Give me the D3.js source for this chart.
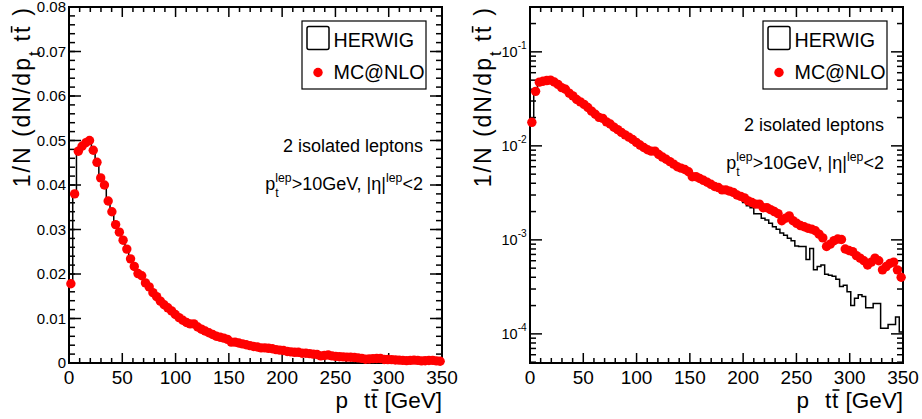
<!DOCTYPE html>
<html>
<head>
<meta charset="utf-8">
<style>
    body { margin: 0; background: #fff; }
    text { font-family: "Liberation Sans", Arial, sans-serif; fill: #000; }
</style>
</head>
<body>
    <svg id="container" width="922" height="419"></svg>
</body>
<script src="https://cdn.jsdelivr.net/npm/d3@7/dist/d3.min.js"></script>
<script>
    // 100 bins of 3.5 GeV, 0 - 350 GeV
    let binWidth = 3.5
    let mcnlo = [
        0.0178, 0.0380, 0.0476, 0.0487, 0.0495, 0.0500, 0.0478, 0.0451, 0.0416, 0.0400,
        0.0364, 0.0340, 0.0311, 0.0294, 0.0276, 0.0256, 0.0234, 0.0217, 0.0201, 0.0196,
        0.0180, 0.0171, 0.0158, 0.0149, 0.0139, 0.0131, 0.0124, 0.0117, 0.0109, 0.0102,
        0.0096, 0.0091, 0.0088, 0.0088, 0.0081, 0.0076, 0.0072, 0.0068, 0.0064, 0.0060,
        0.0058, 0.0056, 0.0053, 0.0047, 0.0047, 0.0045, 0.0043, 0.0041, 0.0039, 0.0037,
        0.0036, 0.0034, 0.0034, 0.0033, 0.0032, 0.0030, 0.0029, 0.0028, 0.0026, 0.0025,
        0.0024, 0.0024, 0.0022, 0.0022, 0.0021, 0.0020, 0.0019, 0.0016, 0.0017, 0.0018,
        0.0016, 0.00150, 0.00142, 0.00138, 0.00133, 0.00130, 0.00125, 0.00115, 0.00105, 0.00085,
        0.00090, 0.00098, 0.00102, 0.00101, 0.00080, 0.00077, 0.00075, 0.00068, 0.00064, 0.00060,
        0.00054, 0.00058, 0.00064, 0.00060, 0.00048, 0.00052, 0.00056, 0.00058, 0.00048, 0.00040
    ]
    let herwig = [
        0.0176, 0.0382, 0.0478, 0.0490, 0.0497, 0.0498, 0.0482, 0.0455, 0.0420, 0.0398,
        0.0368, 0.0342, 0.0314, 0.0295, 0.0279, 0.0258, 0.0236, 0.0219, 0.0203, 0.0193,
        0.0182, 0.0170, 0.0160, 0.0148, 0.0140, 0.0130, 0.0123, 0.0116, 0.0108, 0.0101,
        0.0096, 0.0091, 0.0087, 0.0085, 0.0080, 0.0075, 0.0071, 0.0066, 0.0063, 0.0059,
        0.0057, 0.0054, 0.0051, 0.0047, 0.0046, 0.0044, 0.0042, 0.0040, 0.0038, 0.0036,
        0.0035, 0.0033, 0.0032, 0.0031, 0.0030, 0.0029, 0.0028, 0.0025, 0.0023, 0.0022,
        0.0019, 0.0019, 0.0017, 0.00163, 0.00150, 0.00138, 0.00130, 0.00118, 0.00112, 0.00104,
        0.00098, 0.00086, 0.00085, 0.00085, 0.00062, 0.00081, 0.00048, 0.00052, 0.00054, 0.00043,
        0.00042, 0.00041, 0.00038, 0.00032, 0.00033, 0.00028, 0.00020, 0.00024, 0.00026, 0.00025,
        0.00019, 0.00019, 0.00021, 0.00021, 0.000115, 0.000115, 0.000126, 0.000126, 0.000151, 0.000105
    ]
    let xTicks = [0, 50, 100, 150, 200, 250, 300, 350]
    let linTicks = [0, 0.01, 0.02, 0.03, 0.04, 0.05, 0.06, 0.07, 0.08]
    let linTickLabels = ["0", "0.01", "0.02", "0.03", "0.04", "0.05", "0.06", "0.07", "0.08"]
    let logTicks = [1e-4, 1e-3, 1e-2, 1e-1]
    let logTickExps = ["-4", "-3", "-2", "-1"]
    let legendNames = ["HERWIG", "MC@NLO"]
    let noteLine1 = "2 isolated leptons"

    let svg = d3.select("#container")
    let edges = d3.range(mcnlo.length + 1).map(i => i * binWidth)
    let centers = mcnlo.map((d, i) => (i + 0.5) * binWidth)

    // lays text pieces left to right (sub/superscripts, overbars), returns width
    function richText(g, pieces, size, spacing) {
        let cursor = 0, lastStart = 0
        pieces.forEach(p => {
            let fs = size * (p.scale || 1)
            let start = p.stack ? lastStart : cursor + (p.gap || 0)
            let yy = (p.shift || 0) * size
            let t = g.append("text")
                .attr("x", start).attr("y", yy)
                .style("font-size", fs + "px")
                .style("letter-spacing", (spacing || 0) + "px")
                .text(p.text)
            let w = t.node().getBBox().width
            if (p.bar) {
                g.append("line")
                    .attr("x1", start + 0.5).attr("x2", start + w - (spacing || 0) + 0.5)
                    .attr("y1", yy - 0.8 * fs).attr("y2", yy - 0.8 * fs)
                    .attr("stroke", "#000").attr("stroke-width", 1.6)
            }
            if (!p.stack) { lastStart = start; cursor = start + w }
            else cursor = Math.max(cursor, start + w)
        })
        return cursor
    }

    function rightText(xr, yb, pieces, size) {
        let g = svg.append("g")
        let w = richText(g, pieces, size)
        g.attr("transform", `translate(${xr - w},${yb})`)
        return g
    }

    let yTitle = [
        { text: "1/N (dN/dp" },
        { text: "t", scale: 0.72, shift: 0.42 },
        { text: "t", gap: 8 },
        { text: "t", bar: true },
        { text: ")", gap: 9 }
    ]
    let xTitle = [
        { text: "p" },
        { text: "t", gap: 16 },
        { text: "t", bar: true },
        { text: "[GeV]", gap: 6.5 }
    ]
    let noteLine2 = [
        { text: "p" },
        { text: "lep", scale: 0.68, shift: -0.45 },
        { text: "t", scale: 0.68, shift: 0.38, stack: true },
        { text: ">10GeV, |η|" },
        { text: "lep", scale: 0.68, shift: -0.45 },
        { text: "<2" }
    ]

    function drawPanel(cfg) {
        let top = 7, bottom = 363
        let x = d3.scaleLinear().domain([0, 350]).range([cfg.x0, cfg.x1])
        let y = cfg.log
            ? d3.scaleLog().domain([4.9e-5, 0.30]).range([bottom, top])
            : d3.scaleLinear().domain([0, 0.08]).range([bottom, top])

        let g = svg.append("g")

        // frame
        g.append("rect")
            .attr("x", cfg.x0).attr("y", top)
            .attr("width", cfg.x1 - cfg.x0).attr("height", bottom - top)
            .attr("fill", "none").attr("stroke", "#000").attr("stroke-width", 2)

        // x ticks, bottom and top, pointing inside
        let xMinor = d3.range(0, 351, 10)
        let tk = g.append("g").attr("stroke", "#000").attr("stroke-width", 1.5)
        xMinor.forEach(v => {
            let len = xTicks.includes(v) ? 10 : 5
            tk.append("line").attr("x1", x(v)).attr("x2", x(v)).attr("y1", bottom).attr("y2", bottom - len)
            tk.append("line").attr("x1", x(v)).attr("x2", x(v)).attr("y1", top).attr("y2", top + len)
        })
        g.selectAll(".xl").data(xTicks).enter().append("text")
            .attr("x", d => x(d)).attr("y", 384)
            .attr("text-anchor", "middle")
            .style("font-size", "19px")
            .text(d => d)

        // y ticks
        let yMajor, yMinor
        if (cfg.log) {
            yMajor = logTicks
            yMinor = []
            ;[1e-5, 1e-4, 1e-3, 1e-2, 1e-1].forEach(dec => {
                d3.range(2, 10).forEach(m => {
                    let v = m * dec
                    if (v > y.domain()[0] && v < y.domain()[1]) yMinor.push(v)
                })
            })
        } else {
            yMajor = linTicks
            yMinor = d3.range(0, 0.0801, 0.002)
        }
        yMinor.forEach(v => {
            tk.append("line").attr("x1", cfg.x0).attr("x2", cfg.x0 + 6).attr("y1", y(v)).attr("y2", y(v))
            tk.append("line").attr("x1", cfg.x1).attr("x2", cfg.x1 - 6).attr("y1", y(v)).attr("y2", y(v))
        })
        yMajor.forEach(v => {
            tk.append("line").attr("x1", cfg.x0).attr("x2", cfg.x0 + 12).attr("y1", y(v)).attr("y2", y(v))
            tk.append("line").attr("x1", cfg.x1).attr("x2", cfg.x1 - 12).attr("y1", y(v)).attr("y2", y(v))
        })

        if (cfg.log) {
            logTicks.forEach((v, i) => {
                rightText(cfg.x0 - 3, y(v) + 5, [
                    { text: "10" },
                    { text: logTickExps[i], scale: 0.7, shift: -0.55 }
                ], 14.5)
            })
        } else {
            g.selectAll(".yl").data(linTicks).enter().append("text")
                .attr("x", cfg.x0 - 3).attr("y", d => y(d) + 5)
                .attr("text-anchor", "end")
                .style("font-size", "15px")
                .text((d, i) => linTickLabels[i])
        }

        // HERWIG histogram
        let pts = herwig.map((v, i) => [x(edges[i]), y(v)])
        pts.push([x(edges[edges.length - 1]), y(herwig[herwig.length - 1])])
        g.append("path")
            .attr("d", d3.line().curve(d3.curveStepAfter)(pts))
            .attr("fill", "none").attr("stroke", "#000").attr("stroke-width", 1.5)

        // MC@NLO markers
        g.selectAll(".pt").data(mcnlo).enter().append("circle")
            .attr("cx", (d, i) => x(centers[i]))
            .attr("cy", d => y(d))
            .attr("r", 4.7)
            .attr("fill", "#ff0000")

        // legend
        let lg = svg.append("g").attr("transform", `translate(${cfg.legX},21)`)
        lg.append("rect").attr("width", 124).attr("height", 68)
            .attr("fill", "#fff").attr("stroke", "#000").attr("stroke-width", 1.2)
        lg.append("rect").attr("x", 5).attr("y", 5.5).attr("width", 22).attr("height", 23).attr("rx", 2)
            .attr("fill", "none").attr("stroke", "#000").attr("stroke-width", 1.5)
        lg.append("circle").attr("cx", 16).attr("cy", 51.5).attr("r", 4.7).attr("fill", "#ff0000")
        legendNames.forEach((name, i) => {
            lg.append("text").attr("x", 31.5).attr("y", 26 + i * 31.5)
                .style("font-size", "19.7px").text(name)
        })

        // annotation
        svg.append("text").attr("x", cfg.noteX).attr("y", cfg.noteY)
            .attr("text-anchor", "end").style("font-size", "18px").text(noteLine1)
        rightText(cfg.noteX, cfg.noteY + 38, noteLine2, 18)

        // axis titles
        rightText(cfg.x1, 408, xTitle, 22.5)
        let tg = svg.append("g")
        let tw = richText(tg, yTitle, 23, 2)
        tg.attr("transform", `translate(${cfg.titleX},${6 + tw}) rotate(-90)`)
    }

    drawPanel({ x0: 69, x1: 442, log: false, legX: 302, noteX: 423, noteY: 152, titleX: 30 })
    drawPanel({ x0: 530, x1: 903, log: true, legX: 763, noteX: 884, noteY: 131, titleX: 491 })
</script>
</html>
